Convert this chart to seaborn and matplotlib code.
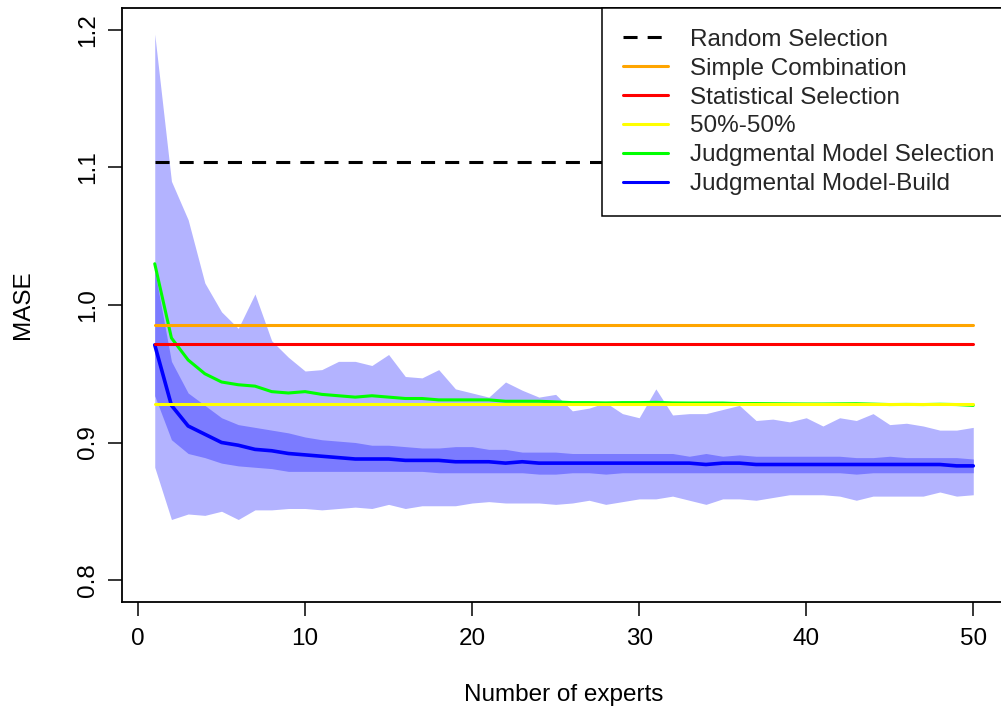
import numpy as np
import matplotlib
matplotlib.use('Agg')
import matplotlib.pyplot as plt
import seaborn as sns

sns.set_theme(style='white')
plt.rcParams['font.family'] = ['Liberation Sans', 'DejaVu Sans']

experts = list(range(1, 51))

# benchmarks (constant over the number of experts)
random_selection = 1.104
simple_combination = 0.9855
statistical_selection = 0.9717
fifty_fifty = 0.9281

judg_selection = [1.030, 0.976, 0.960, 0.950, 0.944, 0.942, 0.941, 0.937, 0.936, 0.937,
                  0.935, 0.934, 0.933, 0.934, 0.933, 0.932, 0.932, 0.931, 0.931, 0.931,
                  0.931, 0.930, 0.930, 0.930, 0.9295, 0.929, 0.929, 0.9288, 0.929, 0.929,
                  0.9292, 0.9288, 0.9287, 0.9287, 0.9287, 0.9283, 0.9283, 0.9282, 0.9281, 0.928,
                  0.928, 0.9281, 0.9282, 0.9279, 0.9276, 0.9277, 0.9276, 0.9278, 0.9276, 0.927]

build_median = [0.971, 0.927, 0.912, 0.906, 0.900, 0.898, 0.895, 0.894, 0.892, 0.891,
                0.890, 0.889, 0.888, 0.888, 0.888, 0.887, 0.887, 0.887, 0.886, 0.886,
                0.886, 0.885, 0.886, 0.885, 0.885, 0.885, 0.885, 0.885, 0.885, 0.885,
                0.885, 0.885, 0.885, 0.884, 0.885, 0.885, 0.884, 0.884, 0.884, 0.884,
                0.884, 0.884, 0.884, 0.884, 0.884, 0.884, 0.884, 0.884, 0.883, 0.883]

outer_upper = [1.197, 1.090, 1.062, 1.016, 0.995, 0.983, 1.008, 0.974, 0.962, 0.952,
               0.953, 0.959, 0.959, 0.956, 0.964, 0.948, 0.947, 0.953, 0.939, 0.936,
               0.933, 0.944, 0.938, 0.933, 0.935, 0.923, 0.925, 0.929, 0.921, 0.918,
               0.939, 0.920, 0.921, 0.921, 0.924, 0.927, 0.916, 0.917, 0.915, 0.918,
               0.912, 0.918, 0.916, 0.921, 0.913, 0.914, 0.912, 0.909, 0.909, 0.911]

outer_lower = [0.882, 0.844, 0.848, 0.847, 0.850, 0.844, 0.851, 0.851, 0.852, 0.852,
               0.851, 0.852, 0.853, 0.852, 0.855, 0.852, 0.854, 0.854, 0.854, 0.856,
               0.857, 0.856, 0.856, 0.856, 0.855, 0.856, 0.858, 0.855, 0.857, 0.859,
               0.859, 0.861, 0.858, 0.855, 0.859, 0.859, 0.858, 0.860, 0.862, 0.862,
               0.862, 0.861, 0.858, 0.861, 0.861, 0.861, 0.861, 0.864, 0.861, 0.862]

inner_upper = [1.025, 0.959, 0.936, 0.927, 0.918, 0.913, 0.911, 0.909, 0.907, 0.904,
               0.902, 0.901, 0.900, 0.898, 0.898, 0.897, 0.896, 0.896, 0.897, 0.897,
               0.895, 0.895, 0.893, 0.893, 0.893, 0.892, 0.892, 0.892, 0.892, 0.892,
               0.892, 0.892, 0.890, 0.892, 0.890, 0.891, 0.890, 0.890, 0.890, 0.890,
               0.890, 0.890, 0.889, 0.889, 0.890, 0.889, 0.889, 0.889, 0.889, 0.888]

inner_lower = [0.934, 0.902, 0.892, 0.889, 0.885, 0.883, 0.882, 0.881, 0.879, 0.879,
               0.879, 0.879, 0.879, 0.879, 0.879, 0.879, 0.879, 0.878, 0.878, 0.878,
               0.878, 0.878, 0.878, 0.877, 0.877, 0.878, 0.878, 0.877, 0.878, 0.878,
               0.878, 0.878, 0.878, 0.878, 0.878, 0.878, 0.878, 0.878, 0.878, 0.878,
               0.878, 0.878, 0.877, 0.878, 0.878, 0.878, 0.878, 0.878, 0.878, 0.878]

labels = ['Random Selection', 'Simple Combination', 'Statistical Selection',
          '50%-50%', 'Judgmental Model Selection', 'Judgmental Model-Build']

W, H = 1001, 717
fs = 17.5
fig = plt.figure(figsize=(W / 100, H / 100), dpi=100)
# plot region as in the R figure (right edge slightly outside the image)
ax = fig.add_axes([122 / W, 1 - 602 / H, (1006 - 122) / W, (602 - 8) / H])

ax.fill_between(experts, outer_lower, outer_upper, color='#B3B3FF', lw=0)
ax.fill_between(experts, inner_lower, inner_upper, color='#7B7BFF', lw=0)

lw = 2.2
n = len(experts)
# curves first, benchmark lines on top
sns.lineplot(x=experts, y=judg_selection, color='#00FF00', lw=lw, ax=ax)
sns.lineplot(x=experts, y=build_median, color='#0000FF', lw=lw + 0.4, ax=ax)
sns.lineplot(x=experts, y=np.full(n, simple_combination), color='#FFA500', lw=lw, ax=ax)
sns.lineplot(x=experts, y=np.full(n, statistical_selection), color='#FF0000', lw=lw, ax=ax)
sns.lineplot(x=experts, y=np.full(n, fifty_fifty), color='#FFFF00', lw=lw, ax=ax)
sns.lineplot(x=experts, y=np.full(n, random_selection), color='black', lw=lw,
             ax=ax).lines[-1].set_dashes((4.6, 3.3))

ax.set_xlim(-0.96, 51.96)
ax.set_ylim(0.784, 1.216)
ax.set_xticks([0, 10, 20, 30, 40, 50])
ax.set_yticks([0.8, 0.9, 1.0, 1.1, 1.2])
ax.set_yticklabels(['0.8', '0.9', '1.0', '1.1', '1.2'])
ax.tick_params(axis='both', which='major', direction='out', length=10, width=1.1,
               color='black', labelsize=fs, labelcolor='black', bottom=True, left=True)
ax.tick_params(axis='x', pad=9)
ax.tick_params(axis='y', pad=6.5)
plt.setp(ax.get_yticklabels(), rotation=90, va='center')
for s in ax.spines.values():
    s.set_color('black')
    s.set_linewidth(1.3)

ax.set_xlabel('Number of experts', fontsize=fs, color='black', labelpad=24)
ax.set_ylabel('MASE', fontsize=fs, color='black', labelpad=31)

handles = [
    plt.Line2D([], [], color='black', lw=lw, dashes=(4.6, 3.3)),
    plt.Line2D([], [], color='#FFA500', lw=lw),
    plt.Line2D([], [], color='#FF0000', lw=lw),
    plt.Line2D([], [], color='#FFFF00', lw=lw),
    plt.Line2D([], [], color='#00FF00', lw=lw),
    plt.Line2D([], [], color='#0000FF', lw=lw),
]
leg = ax.legend(handles, labels, loc='upper left',
                bbox_to_anchor=(602 / W, 1 - 8 / H), bbox_transform=fig.transFigure,
                fontsize=fs, frameon=True, fancybox=False, framealpha=1,
                edgecolor='black', handlelength=1.85, handletextpad=0.9,
                labelspacing=0.28, borderpad=0.86, borderaxespad=0)
leg.get_frame().set_linewidth(1.1)

fig.savefig('out.png', dpi=100)
